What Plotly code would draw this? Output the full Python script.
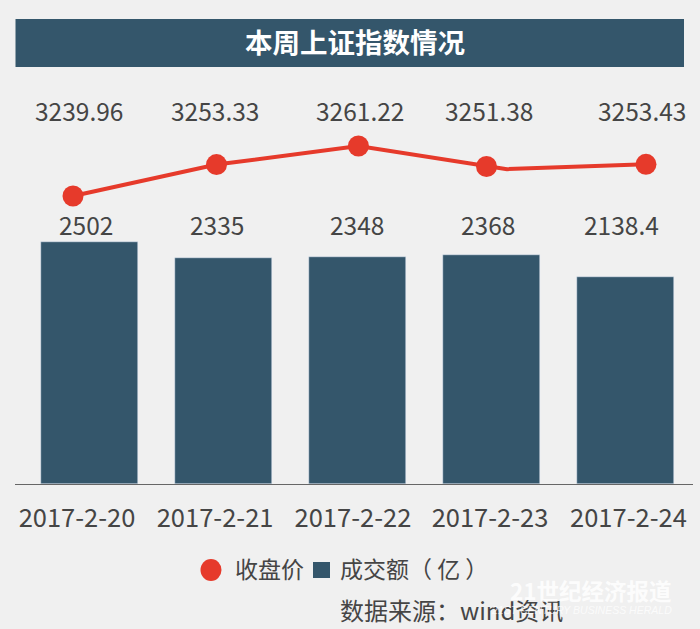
import plotly.graph_objects as go

dates = ["2017-2-20", "2017-2-21", "2017-2-22", "2017-2-23", "2017-2-24"]
volume = [2502, 2335, 2348, 2368, 2138.4]
close_labels = ["3239.96", "3253.33", "3261.22", "3251.38", "3253.43"]
volume_labels = ["2502", "2335", "2348", "2368", "2138.4"]
# the hand-placed line of the original: points sit off the bar centres
close_x = [-0.123, 0.948, 2.007, 2.963, 3.116, 4.153]
close_y = [3239.96, 3253.33, 3261.22, 3252.5, 3251.38, 3253.43]
close_marker = [21, 21, 21, 21, 0, 21]
tick_x = [-0.093, 0.937, 1.966, 2.989, 4.022]
close_label_x = [-0.078, 0.937, 2.019, 2.982, 4.12]
volume_label_x = [-0.026, 0.952, 1.993, 2.974, 3.974]

BG = "#f0f0f0"
NAVY = "#34566b"
RED = "#e63a2b"
TXT = "#454545"
FONT = "Noto Sans CJK SC"
W, H = 700, 629
PLOT_L, PLOT_W, PLOT_B = 15, 678, 484

fig = go.Figure()
fig.add_bar(x=list(range(5)), y=volume, width=0.724, marker_color=NAVY, showlegend=False, name="成交额(亿)")
fig.add_scatter(x=close_x, y=close_y, yaxis="y2", mode="lines+markers", name="收盘价", showlegend=False,
                line=dict(color=RED, width=4),
                marker=dict(color=RED, size=close_marker, opacity=1, line=dict(width=0)))

def px_x(p):
    return (p - PLOT_L) / PLOT_W

def px_y(p):
    return 1 - p / PLOT_B

ann = []
for xv, t in zip(close_label_x, close_labels):
    ann.append(dict(x=xv, y=px_y(110), xref="x", yref="paper", text=t, showarrow=False,
                    font=dict(size=24.5, color=TXT, family=FONT), yanchor="middle"))
for xv, t in zip(volume_label_x, volume_labels):
    ann.append(dict(x=xv, y=px_y(225), xref="x", yref="paper", text=t, showarrow=False,
                    font=dict(size=24.5, color=TXT, family=FONT), yanchor="middle"))

def text_px(x, y, t, size, color=TXT, family=FONT, anchor="left"):
    ann.append(dict(x=px_x(x), y=px_y(y), xref="paper", yref="paper", text=t, showarrow=False,
                    xanchor=anchor, yanchor="middle", font=dict(size=size, color=color, family=family)))

shapes = []
def rect_px(x0, y0, x1, y1, color, kind="rect"):
    shapes.append(dict(type=kind, xref="paper", yref="paper",
                       x0=px_x(x0), x1=px_x(x1), y0=px_y(y1), y1=px_y(y0),
                       fillcolor=color, line=dict(width=0), layer="above"))

rect_px(15.5, 19, 684, 67, NAVY)
rect_px(200.5, 559, 221.5, 581, RED, "circle")
rect_px(313, 562, 330, 578, NAVY)

text_px(355, 41, "<b>本周上证指数情况</b>", 27.5, "#ffffff", anchor="center")
text_px(233, 568, "收盘价", 23)
text_px(338, 568, "成交额（ 亿 ）", 23)
text_px(338, 609, "数据来源：wind资讯", 24)
text_px(591, 590, "<b>21世纪经济报道</b>", 22.5, "rgba(255,255,255,0.85)", anchor="center")
text_px(674, 610, "<i>21ST CENTURY BUSINESS HERALD</i>", 10.5, "rgba(255,255,255,0.75)", family="Liberation Sans", anchor="right")

fig.update_layout(
    width=W, height=H, paper_bgcolor=BG, plot_bgcolor=BG,
    margin=dict(l=PLOT_L, r=W - PLOT_L - PLOT_W, t=0, b=H - PLOT_B, autoexpand=False),
    bargap=0, showlegend=False, annotations=ann, shapes=shapes,
    xaxis=dict(range=[-0.556, 4.504], tickmode="array", tickvals=tick_x, ticktext=dates,
               showgrid=False, zeroline=False, showline=True, linecolor="#666666", linewidth=1,
               ticks="outside", ticklen=11, tickcolor=BG, tickwidth=0.01,
               tickfont=dict(size=25.5, color=TXT, family=FONT)),
    yaxis=dict(range=[0, 5005], visible=False, fixedrange=True),
    yaxis2=dict(range=[3117.5, 3323.3], overlaying="y", visible=False, fixedrange=True),
)
fig.write_html("out.html", config=dict(displayModeBar=False), post_script="document.body.style.margin='0';")
